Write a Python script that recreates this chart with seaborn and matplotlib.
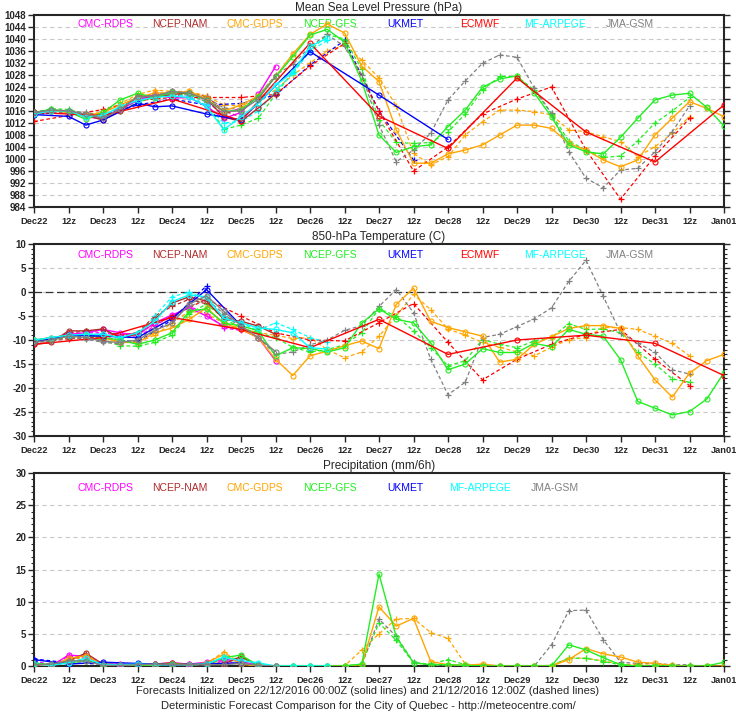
import numpy as np
import matplotlib
matplotlib.use("Agg")
import matplotlib.pyplot as plt
import seaborn as sns

# Time axis: hours after 22/12/2016 00Z
tick_hours = list(range(0, 241, 12))
tick_labels = ['Dec22', '12z', 'Dec23', '12z', 'Dec24', '12z', 'Dec25', '12z', 'Dec26', '12z',
               'Dec27', '12z', 'Dec28', '12z', 'Dec29', '12z', 'Dec30', '12z', 'Dec31', '12z', 'Jan01']

models = ['CMC-RDPS', 'NCEP-NAM', 'CMC-GDPS', 'NCEP-GFS', 'UKMET', 'ECMWF', 'MF-ARPEGE', 'JMA-GSM']
colors = ['#ff00ff', '#b22a2a', '#ffa500', '#22ee22', '#0000ff', '#ff0000', '#00ffff', '#808080']

# hours for the non 6-hourly models
ukmet_p_hours = [0, 12, 18, 24, 36, 42, 48, 60, 72, 96, 120, 144]
ukmet_p_d_hours = [0, 12, 24, 36, 48, 60, 72, 84, 96, 108, 120, 132]
ukmet_t_hours = [0, 12, 24, 36, 48, 60, 72]
ukmet_t_d_hours = [0, 12, 24, 36, 48, 60]
ecmwf_hours = [0, 24, 48, 72, 96, 120, 144, 168, 192, 216, 240]
ecmwf_d_hours = [0, 12, 24, 36, 48, 60, 72, 84, 96, 108, 120, 132, 144, 156, 168, 180, 192, 204, 216, 228]

# ---------------- Mean sea level pressure (hPa) ----------------
rdps_p = [1015.3, 1016, 1015.8, 1014, 1013.5, 1016.5, 1019.5, 1021.5, 1020.3, 1020.5, 1017.5, 1013.5, 1015.5, 1021.5, 1030.8]
rdps_p_d = [1015.5, 1016.3, 1016, 1014.5, 1014, 1016.5, 1020, 1021.5, 1021, 1021.5, 1019, 1015, 1017]
nam_p = [1015.5, 1016, 1016, 1014.5, 1013, 1016, 1021, 1020.5, 1021.5, 1022, 1020, 1014, 1012.5, 1017, 1021.7]
nam_p_d = [1015, 1016, 1016, 1015, 1014, 1016.5, 1021, 1021, 1022, 1022, 1021, 1016, 1014]
gdps_p = [1015, 1016, 1015.5, 1014.5, 1015.5, 1018, 1020.5, 1022, 1022, 1022.5, 1020, 1016, 1018, 1021,
          1027.5, 1035, 1041.5, 1045, 1042, 1031, 1025.8, 1009.7, 998.6, 998.6, 1001.7, 1003, 1004.7,
          1008, 1011.3, 1011.3, 1010.2, 1005.2, 1003, 999.7, 997.4, 999.7, 1008, 1013.6, 1019.1, 1016.9, 1014.1]
gdps_p_d = [1015, 1016.3, 1016, 1015, 1015.5, 1018.5, 1021.5, 1023, 1022.5, 1022.5, 1021, 1018, 1017.7, 1020,
            1023, 1028, 1032, 1036, 1038, 1033, 1027, 1017.7, 1001.9, 998, 1000.8, 1008, 1012.4, 1016.3,
            1016.3, 1015.8, 1014.7, 1009.7, 1009.1, 1007.4, 1005.8, 1000.8, 1004.1, 1008.6, 1014.1]
gfs_p = [1015.5, 1016.5, 1015.8, 1013.2, 1015.5, 1019.7, 1021.9, 1020.4, 1022.4, 1021.9, 1019.7, 1015.8, 1016.3,
         1020.8, 1027.4, 1034.1, 1041.3, 1043.2, 1039, 1026, 1008, 1002.2, 1004.1, 1004.7, 1010.8, 1016.3,
         1023.9, 1026.7, 1027.7, 1022, 1014, 1004.7, 1002.4, 1001.7, 1007.2, 1013.6, 1019.7, 1021.3, 1021.9, 1017.2, 1011]
gfs_p_d = [1015.5, 1016.8, 1016.5, 1015, 1014, 1016, 1019, 1020.5, 1021.5, 1021.5, 1019, 1009.9, 1011.3,
           1013.6, 1021.5, 1029, 1036, 1041.5, 1040, 1030, 1013, 1005.5, 1005.2, 1005.5, 1009, 1015, 1023,
           1027.5, 1027.5, 1023, 1015, 1006, 1003, 1000.5, 1001, 1006, 1012, 1016, 1020.5]
ukmet_p = [1014.8, 1014.2, 1011.3, 1013, 1018.6, 1017.4, 1017.7, 1015, 1013, 1035.8, 1021.3, 1006.5]
ukmet_p_d = [1015, 1015.5, 1014.5, 1018, 1020, 1018, 1018.5, 1021.3, 1031.3, 1039.5, 1016, 999.7]
ecmwf_p = [1015.5, 1014.5, 1020, 1012.8, 1038.6, 1014.3, 1003.5, 1027, 1009, 999, 1018]
ecmwf_p_d = [1012.5, 1014.5, 1016.5, 1019.5, 1020.5, 1020.5, 1020.5, 1021.5, 1031, 1038.5, 1016, 996,
             1004, 1015, 1020, 1024, 1003, 986.6, 1001, 1013.5]
arpege_p = [1015, 1016, 1016, 1014, 1014.5, 1017.5, 1019.5, 1020.5, 1021, 1020.5, 1017.5, 1009.8, 1014,
            1018.5, 1024.5, 1029, 1037.5, 1040.3]
arpege_p_d = [1015.5, 1016, 1016, 1014.5, 1014.5, 1017, 1020, 1021, 1021.5, 1021, 1018, 1012, 1012.5,
              1016, 1022.5, 1028.5, 1036, 1039.5]
jma_p = [1015.5, 1016.3, 1016, 1015, 1013.5, 1016.5, 1020.8, 1021, 1022.5, 1022, 1019.7, 1015.8, 1016, 1020, 1027.5]
jma_p_d = [1015.5, 1016.5, 1016, 1015.5, 1014.5, 1017, 1020.5, 1021.5, 1022.5, 1022, 1020.5, 1017, 1016.5,
           1021, 1028, 1031.5, 1037.5, 1041.5, 1037.5, 1028, 1011.3, 999.1, 1003, 1008.6, 1019.7, 1026,
           1031.9, 1034.7, 1033.9, 1023.6, 1015.2, 1002.4, 993.6, 990.4, 996.3, 996.9, 1002.4, 1009.1, 1017.7]

# ---------------- 850-hPa temperature (C) ----------------
rdps_t = [-10, -9.8, -8.8, -8.5, -7.8, -8.5, -9, -6.4, -4.8, -3.3, -5, -7.1, -7.8, -9.5, -14.3]
rdps_t_d = [-10.5, -9.5, -9, -8.5, -8.5, -9, -9.5, -7, -5, -3, -4.5, -7.5, -8]
nam_t = [-10.9, -10.5, -8.1, -8.1, -7.7, -9.5, -8.8, -5.7, -2.3, -1, -1.9, -5.7, -6.1, -7.1, -8.8]
nam_t_d = [-10.5, -10, -8.5, -8.2, -8, -9, -8.5, -5, -3, -1.5, -2.5, -5, -6.5]
gdps_t = [-10, -9.5, -9, -9, -9.5, -10.5, -10.5, -8.5, -7.5, -5.7, -3.3, -6.5, -7.8, -9.5, -14, -17.4,
          -13.3, -12.3, -11.2, -10.2, -11.8, -2.6, 0.8, -6.1, -7.4, -8.3, -9.2, -14.6, -14, -10.9, -9.3,
          -7.6, -7, -7, -7.6, -13.3, -18.3, -21.9, -16.9, -14.3, -13]
gdps_t_d = [-10, -9.5, -9.5, -9, -9.5, -10.5, -10.5, -9, -6.5, -4, -4.5, -6.5, -7.5, -8.5, -9, -9.7,
            -9.5, -12, -13.7, -12.5, -9.2, -5, -0.5, -3.7, -7.7, -9, -10.5, -11.5, -12.5, -13.3, -11.5,
            -9.9, -9.5, -7.4, -7.4, -7.8, -9.2, -10.7, -13.3]
gfs_t = [-10, -10, -9.2, -9, -9.5, -10, -10.9, -10, -8.5, -4, -3.5, -6.5, -7, -8.1, -13.3, -11.6, -11.8,
         -12.5, -11.6, -6.5, -3.5, -5.7, -6.4, -10.6, -16.2, -15, -11.8, -12.6, -12.6, -10.7, -11.4, -7.8,
         -8.8, -9.2, -14.1, -22.8, -24.2, -25.6, -24.9, -22.3, -16.8]
gfs_t_d = [-10, -10, -9.5, -9.5, -10, -11.2, -11.3, -10.5, -9, -4.5, -2.5, -5.5, -7.5, -8.5, -9.5, -11.5,
           -12.5, -12, -11, -8.5, -3.5, -5, -8.1, -11.6, -15.4, -14.3, -9.9, -10.9, -11.6, -10.2, -9.5,
           -6.6, -7.8, -7.7, -8.5, -12.6, -15, -18.1, -18.8]
ukmet_t = [-10.5, -9, -9.2, -9.5, -5.5, 0.5, -7]
ukmet_t_d = [-10, -9, -9.5, -10.5, -5.8, 1.3]
ecmwf_t = [-10.9, -9.5, -5.3, -7.8, -11.6, -5.7, -13, -10, -9, -10.7, -17.4]
ecmwf_t_d = [-10.5, -9.7, -9.5, -8.5, -5, -1.5, -5, -8.5, -10, -10.2, -6.4, -2.4, -10.5, -18.3, -14,
             -10.9, -8.8, -7.8, -14, -19.5]
arpege_t = [-10, -9.5, -9, -8.8, -8.8, -9.5, -8.5, -6.1, -2, -0.6, -1, -5.5, -6.4, -7.5, -7.8, -8.5, -11.6, -11.9]
arpege_t_d = [-10, -9.5, -9, -9, -9, -9.5, -9.5, -5, -1, 0, -1.5, -5.5, -6.5, -8, -6.4, -7.8, -9.5, -10.5]
jma_t = [-10.5, -10, -9.2, -9.5, -10.3, -10.5, -10, -8, -6.5, -2.5, -0.8, -4, -7, -9.5, -12.4]
jma_t_d = [-10.5, -10.2, -9.5, -9.8, -10.5, -10.8, -10, -7.5, -5.5, -3, -1.5, -4.5, -7.5, -9.5, -13,
           -12.5, -11, -10, -8, -7, -3, 0.5, -4.3, -14, -21.4, -18.8, -9.5, -8.8, -7.2, -5.6, -3.3, 2.2,
           6.6, -0.9, -8.5, -10.6, -12.6, -16.2, -17.1]

# ---------------- Precipitation (mm/6h) ----------------
rdps_pr = [0.3, 0, 1.7, 1.5, 0.3, 0.3, 0.2, 0.3, 0.5, 0.3, 0.6, 1, 0.8, 0, 0]
rdps_pr_d = [0.8, 0.2, 1.5, 1.2, 0.3, 0.2, 0.2, 0.3, 0.4, 0.3, 0.5, 0.7, 0.3]
nam_pr = [0.3, 0, 0.8, 2, 0.3, 0, 0.2, 0.3, 0.5, 0.2, 0.3, 0.3, 1.5, 0.1, 0]
nam_pr_d = [0.5, 0.1, 0.6, 1.8, 0.2, 0.1, 0.2, 0.3, 0.4, 0.3, 0.4, 0.5, 1.2]
gdps_pr = [0.3, 0, 1.2, 1.6, 0.2, 0.2, 0.1, 0.2, 0.3, 0.2, 0.5, 1.8, 0.3, 0, 0, 0, 0, 0, 0, 0.2, 9.2,
           6.2, 7.4, 0.7, 0.2, 0.1, 0.3, 0, 0, 0, 0, 1, 2.7, 1.9, 1.4, 0.6, 0.4, 0.1, 0, 0, 0]
gdps_pr_d = [0.5, 0.1, 1, 1.4, 0.2, 0.2, 0.1, 0.2, 0.3, 0.2, 0.4, 2.2, 0.3, 0, 0, 0, 0, 0, 0, 2.5, 5,
             7.3, 7.4, 5.2, 4.3, 0.3, 0.1, 0, 0, 0, 0, 1.3, 1.2, 0.8, 0.3, 0.2, 0.1, 0, 0]
gfs_pr = [0.5, 0.2, 0.5, 0.8, 0.3, 0.2, 0.1, 0.2, 0.3, 0.2, 0.3, 1.3, 1.7, 0.1, 0, 0, 0, 0, 0, 0.3, 14.3,
          4.5, 0.5, 0.2, 0.2, 0.1, 0, 0, 0, 0, 0, 3.3, 2.5, 1.3, 0.2, 0, 0, 0, 0, 0, 0.6]
gfs_pr_d = [0.3, 0.1, 0.7, 1, 0.2, 0.1, 0.1, 0.2, 0.3, 0.2, 0.3, 1, 1.3, 0.1, 0, 0, 0, 0, 0, 0.3, 6.7,
            4, 0.5, 0.3, 1, 0.2, 0, 0, 0, 0, 0.1, 1.2, 1.2, 0.7, 0.2, 0, 0, 0, 0]
ukmet_pr = [1, 0.3, 0.6, 0.4, 0.2, 0.3, 0.5]
ukmet_pr_d = [1.1, 0.5, 0.3, 0.2, 0.2, 0.4]
arpege_pr = [0.3, 0.1, 0.5, 1.2, 0.2, 0.2, 0.3, 0.2, 0.2, 0.2, 0.3, 1.4, 0.8, 0.5, 0, 0, 0, 0]
arpege_pr_d = [0.4, 0.1, 0.6, 1, 0.2, 0.2, 0.2, 0.2, 0.2, 0.2, 0.4, 1.1, 0.6, 0.3, 0, 0, 0, 0]
jma_pr = [0.2, 0.3, 0.8, 0.8, 0.1, 0.1, 0.2, 0.3, 0.2, 0.2, 0.2, 0.2, 0.4, 0.1, 0]
jma_pr_d = [0.3, 0.3, 0.7, 1, 0.1, 0.1, 0.2, 0.3, 0.2, 0.2, 0.2, 0.3, 0.5, 0, 0, 0, 0, 0, 0, 0.2, 7.3,
            4.6, 0.6, 0.1, 0, 0, 0, 0, 0, 0, 3.3, 8.6, 8.7, 4.1, 0.6, 0.4, 0.4, 0.2, 0.2]


def h6(vals):
    return list(range(0, 6 * len(vals), 6))


sns.set_style('ticks')
plt.rcParams['font.family'] = ['Liberation Sans', 'DejaVu Sans']

fig = plt.figure(figsize=(7.36, 7.17), dpi=100)
ax_p = fig.add_axes([0.0462, 0.7113, 0.9375, 0.2678])
ax_t = fig.add_axes([0.0462, 0.3919, 0.9375, 0.2678])
ax_r = fig.add_axes([0.0462, 0.0711, 0.9375, 0.2692])


def draw(ax, k, hours, vals, dashed):
    c = colors[k]
    if dashed:
        sns.lineplot(x=hours, y=vals, ax=ax, color=c, lw=0.9, ls=(0, (3, 2)), marker='+',
                     ms=4.5, mew=0.9, mec=c, errorbar=None, zorder=3)
    else:
        sns.lineplot(x=hours, y=vals, ax=ax, color=c, lw=1.0, ls='-', marker='o', ms=3.6,
                     mfc='none', mew=0.8, mec=c, errorbar=None, zorder=4)


def setup(ax, ylo, yhi, major, minor, title, leg_y, leg_models):
    ax.set_xlim(0, 240)
    ax.set_ylim(ylo, yhi)
    ax.set_xticks(tick_hours)
    ax.set_xticklabels(tick_labels, fontweight='bold', fontsize=6.7)
    yt = np.arange(ylo, yhi + major / 2, major)
    ax.set_yticks(yt)
    ax.set_yticklabels([f'{v:g}' for v in yt], fontweight='bold', fontsize=7)
    if minor:
        ax.set_yticks(np.arange(ylo, yhi + minor / 2, minor), minor=True)
    ax.tick_params(axis='y', which='major', direction='out', left=True, right=True, length=4, width=1, pad=1.5)
    ax.tick_params(axis='y', which='minor', direction='out', left=True, right=True, length=2, width=0.8)
    ax.tick_params(axis='x', direction='out', bottom=True, top=False, length=4, width=1, pad=3)
    for v in yt[1:-1]:
        ax.axhline(v, color='#c8c8c8', lw=0.8, ls=(0, (4, 3)), zorder=1)
    for s in ax.spines.values():
        s.set_linewidth(1.5)
        s.set_visible(True)
    ax.set_xlabel('')
    ax.set_ylabel('')
    ax.set_title(title, fontsize=8.5, pad=3)
    for j, k in enumerate(leg_models):
        ax.text((71 + 75 * j) / 690, leg_y, models[k], color=colors[k], fontsize=7.5,
                ha='center', va='center', transform=ax.transAxes)


# pressure panel
panel_p = [
    (0, h6(rdps_p_d), rdps_p_d, True), (1, h6(nam_p_d), nam_p_d, True),
    (2, h6(gdps_p_d), gdps_p_d, True), (3, h6(gfs_p_d), gfs_p_d, True),
    (4, ukmet_p_d_hours, ukmet_p_d, True), (5, ecmwf_d_hours, ecmwf_p_d, True),
    (6, h6(arpege_p_d), arpege_p_d, True), (7, h6(jma_p_d), jma_p_d, True),
    (0, h6(rdps_p), rdps_p, False), (1, h6(nam_p), nam_p, False),
    (2, h6(gdps_p), gdps_p, False), (3, h6(gfs_p), gfs_p, False),
    (4, ukmet_p_hours, ukmet_p, False), (5, ecmwf_hours, ecmwf_p, False),
    (6, h6(arpege_p), arpege_p, False), (7, h6(jma_p), jma_p, False),
]
panel_t = [
    (0, h6(rdps_t_d), rdps_t_d, True), (1, h6(nam_t_d), nam_t_d, True),
    (2, h6(gdps_t_d), gdps_t_d, True), (3, h6(gfs_t_d), gfs_t_d, True),
    (4, ukmet_t_d_hours, ukmet_t_d, True), (5, ecmwf_d_hours, ecmwf_t_d, True),
    (6, h6(arpege_t_d), arpege_t_d, True), (7, h6(jma_t_d), jma_t_d, True),
    (0, h6(rdps_t), rdps_t, False), (1, h6(nam_t), nam_t, False),
    (2, h6(gdps_t), gdps_t, False), (3, h6(gfs_t), gfs_t, False),
    (4, ukmet_t_hours, ukmet_t, False), (5, ecmwf_hours, ecmwf_t, False),
    (6, h6(arpege_t), arpege_t, False), (7, h6(jma_t), jma_t, False),
]
panel_r = [
    (0, h6(rdps_pr_d), rdps_pr_d, True), (1, h6(nam_pr_d), nam_pr_d, True),
    (2, h6(gdps_pr_d), gdps_pr_d, True), (3, h6(gfs_pr_d), gfs_pr_d, True),
    (4, ukmet_t_d_hours, ukmet_pr_d, True), (6, h6(arpege_pr_d), arpege_pr_d, True),
    (7, h6(jma_pr_d), jma_pr_d, True),
    (0, h6(rdps_pr), rdps_pr, False), (1, h6(nam_pr), nam_pr, False),
    (2, h6(gdps_pr), gdps_pr, False), (3, h6(gfs_pr), gfs_pr, False),
    (4, ukmet_t_hours, ukmet_pr, False), (6, h6(arpege_pr), arpege_pr, False),
    (7, h6(jma_pr), jma_pr, False),
]

for ax, series in [(ax_p, panel_p), (ax_t, panel_t), (ax_r, panel_r)]:
    for k, hrs, vals, dashed in series:
        draw(ax, k, hrs, vals, dashed)

all_models = [0, 1, 2, 3, 4, 5, 6, 7]
precip_models = [0, 1, 2, 3, 4, 6, 7]   # no ECMWF precipitation
setup(ax_p, 984, 1048, 4, None, 'Mean Sea Level Pressure (hPa)', 0.955, all_models)
setup(ax_t, -30, 10, 5, 1, '850-hPa Temperature (C)', 0.945, all_models)
setup(ax_r, 0, 30, 5, 1, 'Precipitation (mm/6h)', 0.922, precip_models)
ax_t.axhline(0, color='#333333', lw=0.9, ls=(0, (6, 3)), zorder=2)

fig.text(0.5, 1 - 691 / 717, 'Forecasts Initialized on 22/12/2016 00:00Z (solid lines) and 21/12/2016 12:00Z (dashed lines)',
         ha='center', va='center', fontsize=8)
fig.text(0.5, 1 - 706 / 717, 'Deterministic Forecast Comparison for the City of Quebec - http://meteocentre.com/',
         ha='center', va='center', fontsize=8)

fig.savefig('out.png', dpi=100)
